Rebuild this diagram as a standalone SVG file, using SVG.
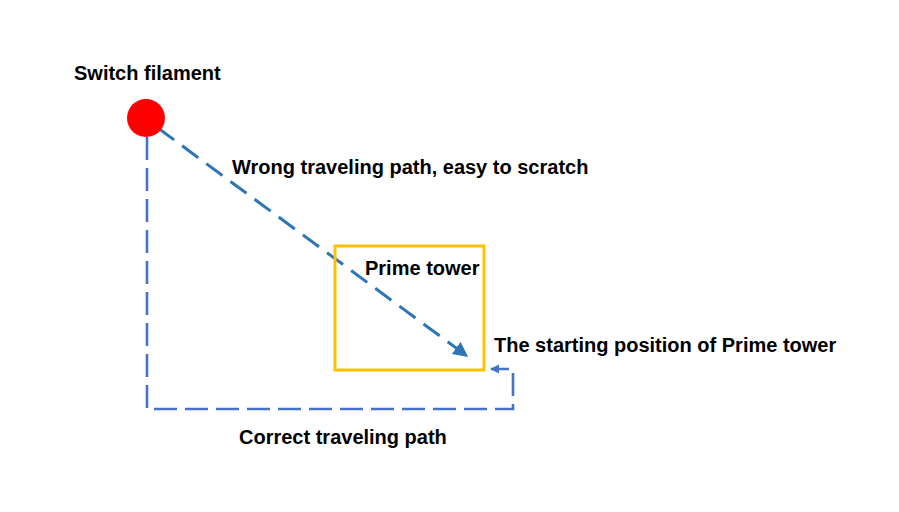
<svg xmlns="http://www.w3.org/2000/svg" width="899" height="512" viewBox="0 0 899 512">
<style>
text{font-family:"Liberation Sans",Arial,sans-serif;font-weight:bold;font-size:20px;fill:#000}
.wrong{fill:none;stroke:#2E75B6;stroke-width:3;stroke-dasharray:20 10}
.correct{fill:none;stroke:#4472C4;stroke-width:2.6;stroke-dasharray:23 8}
</style>
<defs>
<marker id="ah1" viewBox="0 0 10 10" refX="9" refY="5" markerWidth="5" markerHeight="5" orient="auto" markerUnits="strokeWidth">
<path d="M0,0 L10,5 L0,10 z" fill="#2E75B6"/>
</marker>
<marker id="ah2" viewBox="0 0 10 10" refX="9" refY="5" markerWidth="3.5" markerHeight="3.5" orient="auto" markerUnits="strokeWidth">
<path d="M0,0 L10,5 L0,10 z" fill="#4472C4"/>
</marker>
</defs>
<rect width="899" height="512" fill="#fff"/>
<g id="connectors">
<line class="wrong" x1="158" y1="128" x2="467" y2="356" marker-end="url(#ah1)"/>
<path class="correct" d="M147,137 V409 H513 V369 H491" marker-end="url(#ah2)"/>
</g>
<g id="switch">
<circle cx="146" cy="118" r="19" fill="#FF0000"/>
<text x="74" y="79.5">Switch filament</text>
</g>
<g id="prime">
<rect x="335" y="246" width="149" height="124" fill="none" stroke="#FFC000" stroke-width="3"/>
<text x="365" y="274.5">Prime tower</text>
</g>
<g id="labels">
<text x="232" y="173.5">Wrong traveling path, easy to scratch</text>
<text x="494" y="352">The starting position of Prime tower</text>
<text x="239" y="443.5">Correct traveling path</text>
</g>
</svg>
